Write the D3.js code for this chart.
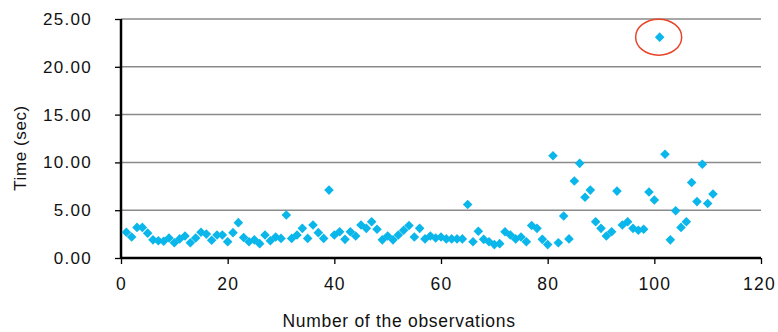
<!DOCTYPE html>
<html>
<head>
<meta charset="utf-8">
<script src="https://cdn.jsdelivr.net/npm/d3@7"></script>
<style>
  body { margin: 0; background: #fff; }
  svg { display: block; font-family: 'Liberation Sans', Arial, sans-serif; }
</style>
</head>
<body>
<div id="chart"></div>
<script>
// observation times (sec), observation number = index + 1
const times = [
  2.7, 2.2, 3.2, 3.2, 2.6, 1.9, 1.8, 1.75, 2.1, 1.6,
  2.0, 2.3, 1.6, 2.1, 2.7, 2.5, 1.85, 2.4, 2.4, 1.7,
  2.65, 3.7, 2.15, 1.7, 1.9, 1.5, 2.4, 1.8, 2.2, 2.05,
  4.5, 2.05, 2.4, 3.1, 2.05, 3.45, 2.65, 2.05, 7.1, 2.4,
  2.75, 1.95, 2.75, 2.3, 3.45, 3.1, 3.8, 3.0, 1.9, 2.3,
  1.9, 2.4, 2.9, 3.4, 2.2, 3.1, 2.0, 2.3, 2.1, 2.2,
  2.0, 2.0, 2.0, 2.0, 5.6, 1.7, 2.8, 1.95, 1.7, 1.4,
  1.5, 2.75, 2.4, 2.0, 2.2, 1.7, 3.4, 3.1, 1.95, 1.4,
  10.7, 1.6, 4.4, 2.0, 8.05, 9.9, 6.35, 7.1, 3.8, 3.1,
  2.3, 2.75, 7.0, 3.45, 3.8, 3.1, 2.9, 3.0, 6.9, 6.07,
  23.1, 10.85, 1.9, 4.95, 3.2, 3.8, 7.9, 5.9, 9.8, 5.7,
  6.7
];
const xTicks = [0, 20, 40, 60, 80, 100, 120];
const yTicks = [0, 5, 10, 15, 20, 25];
const outlierObs = 101;

const width = 778, height = 332;
const margin = { top: 19, right: 17, bottom: 74, left: 121 };

const data = times.map((t, i) => ({ obs: i + 1, t: t }));

const svg = d3.select('#chart').append('svg')
  .attr('width', width)
  .attr('height', height);

const x = d3.scaleLinear().domain([0, 120]).range([margin.left, width - margin.right]);
const y = d3.scaleLinear().domain([0, 25]).range([height - margin.bottom, margin.top]);

// gridlines
svg.append('g')
  .selectAll('line')
  .data(yTicks.filter(d => d > 0))
  .join('line')
  .attr('x1', x(0)).attr('x2', x(120))
  .attr('y1', d => y(d)).attr('y2', d => y(d))
  .attr('stroke', '#8a8a8a')
  .attr('stroke-width', 1.5);

// axes
const xAxis = svg.append('g')
  .attr('transform', `translate(0,${y(0)})`)
  .call(d3.axisBottom(x).tickValues(xTicks).tickSize(6).tickPadding(14).tickFormat(d3.format('d')));

const yAxis = svg.append('g')
  .attr('transform', `translate(${x(0)},0)`)
  .call(d3.axisLeft(y).tickValues(yTicks).tickSize(6).tickPadding(23).tickFormat(d3.format('.2f')));

svg.selectAll('.domain')
  .attr('stroke', '#000')
  .attr('stroke-width', 2.5);
svg.selectAll('.tick line')
  .attr('stroke', '#000')
  .attr('stroke-width', 1.3);
svg.selectAll('.tick text')
  .attr('fill', '#111');
xAxis.selectAll('.tick text')
  .style('font-size', '17.5px')
  .style('letter-spacing', '1.2px')
  .attr('dx', d => d === 120 ? '-2px' : '0px');
yAxis.selectAll('.tick text')
  .style('font-size', '17px')
  .style('letter-spacing', '1.3px');
xAxis.select('.domain').attr('d', `M${x(0)},0H${x(120)}`);
yAxis.select('.domain').attr('d', `M0,${y(0)}V${y(25)}`);

// points
const diamond = d3.symbol().type(d3.symbolSquare).size(46);
svg.append('g')
  .selectAll('path')
  .data(data)
  .join('path')
  .attr('d', diamond)
  .attr('transform', d => `translate(${x(d.obs)},${y(d.t)}) rotate(45)`)
  .attr('fill', '#0ab6ea');

// outlier highlight
const outlier = data.find(d => d.obs === outlierObs);
svg.append('ellipse')
  .attr('cx', x(outlier.obs) - 1)
  .attr('cy', y(outlier.t))
  .attr('rx', 23)
  .attr('ry', 18)
  .attr('fill', 'none')
  .attr('stroke', '#e8442a')
  .attr('stroke-width', 1.5);

// axis titles
svg.append('text')
  .attr('x', 399)
  .attr('y', 326.5)
  .attr('text-anchor', 'middle')
  .style('font-size', '17.5px')
  .style('letter-spacing', '0.7px')
  .attr('fill', '#111')
  .text('Number of the observations');

svg.append('text')
  .attr('transform', 'translate(26,148) rotate(-90)')
  .attr('text-anchor', 'middle')
  .style('font-size', '17px')
  .style('letter-spacing', '0.6px')
  .attr('fill', '#111')
  .text('Time (sec)');
</script>
</body>
</html>
